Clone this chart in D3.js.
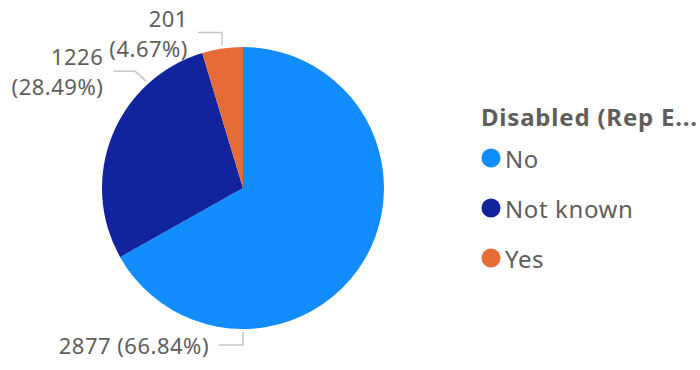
<!DOCTYPE html>
<html>
<head>
<meta charset="utf-8">
<script src="https://cdn.jsdelivr.net/npm/d3@7/dist/d3.min.js"></script>
<style>
  html, body { margin: 0; padding: 0; background: #fff; }
  svg { display: block; font-family: "Noto Sans", "Open Sans", sans-serif; }
</style>
</head>
<body>
<div id="chart"></div>
<script>
// Data
const categories = ['No', 'Not known', 'Yes']
const counts = [2877, 1226, 201]
const percentLabels = ['66.84%', '28.49%', '4.67%']
const colors = ['#118DFF', '#12239E', '#E66C37']
const legendTitle = 'Disabled (Rep E...'

const w = 700
const h = 370
const cx = 243
const cy = 188
const radius = 141
const textColor = '#605E5C'
const leaderColor = '#C8C6C4'

const svg = d3.select('#chart')
  .append('svg')
  .attr('width', w)
  .attr('height', h)

const slices = categories.map((c, i) => ({ name: c, value: counts[i], pct: percentLabels[i], color: colors[i] }))

const pie = d3.pie().sort(null).value(d => d.value)
const arcs = pie(slices)
const arc = d3.arc().innerRadius(0).outerRadius(radius)

const g = svg.append('g').attr('transform', `translate(${cx},${cy})`)

g.selectAll('path')
  .data(arcs)
  .join('path')
  .attr('d', arc)
  .attr('fill', d => d.data.color)

// Label layout (leader anchor angle + elbow) — roughly how the original placed them
const labelLayout = {
  'No': { angle: d => Math.PI, elbow: [0, 13], run: 24, lines: a => [`${a.data.value} (${a.data.pct})`] },
  'Not known': { angle: d => 317.8 * Math.PI / 180, elbow: [-11, -10], run: 22, lines: a => [`${a.data.value}`, `(${a.data.pct})`] },
  'Yes': { angle: d => (d.startAngle + d.endAngle) / 2, elbow: [0, -13], run: 24, lines: a => [`${a.data.value}`, `(${a.data.pct})`] },
}

const anchorArc = d3.arc().innerRadius(radius + 3).outerRadius(radius + 3)
const lineHeight = 30

arcs.forEach(a => {
  const lay = labelLayout[a.data.name]
  const ang = lay.angle(a)
  const p0 = anchorArc.centroid({ startAngle: ang, endAngle: ang })
  const p1 = [p0[0] + lay.elbow[0], p0[1] + lay.elbow[1]]
  const p2 = [p1[0] - lay.run, p1[1]]

  g.append('path')
    .attr('d', d3.line()([p0, p1, p2]))
    .attr('fill', 'none')
    .attr('stroke', leaderColor)
    .attr('stroke-width', 1.5)

  const lines = lay.lines(a)
  const txt = g.append('text')
    .attr('x', p2[0] - 10)
    .attr('y', p2[1] - (lines.length - 1) * lineHeight / 2)
    .attr('text-anchor', 'end')
    .attr('dominant-baseline', 'central')
    .style('fill', textColor)
    .style('font-size', '22px')
    .style('letter-spacing', '0.5px')

  lines.forEach((l, i) => {
    txt.append('tspan')
      .attr('x', p2[0] - 10)
      .attr('dy', i === 0 ? 0 : lineHeight)
      .text(l)
  })
})

// Legend
const legend = svg.append('g').attr('transform', 'translate(481,0)')

legend.append('text')
  .attr('x', 0)
  .attr('y', 116)
  .attr('dominant-baseline', 'central')
  .style('fill', textColor)
  .style('font-size', '24px')
  .style('font-weight', 'bold')
  .style('letter-spacing', '0.8px')
  .text(legendTitle)

const legendY = d3.scalePoint().domain(categories).range([158, 258])

const item = legend.selectAll('g.item')
  .data(slices)
  .join('g')
  .attr('class', 'item')
  .attr('transform', d => `translate(0,${legendY(d.name)})`)

item.append('circle')
  .attr('cx', 10)
  .attr('cy', 0)
  .attr('r', 9.5)
  .attr('fill', d => d.color)

item.append('text')
  .attr('x', 24)
  .attr('y', 0)
  .attr('dominant-baseline', 'central')
  .style('fill', textColor)
  .style('font-size', '24px')
  .style('letter-spacing', '0.6px')
  .text(d => d.name)
</script>
</body>
</html>
